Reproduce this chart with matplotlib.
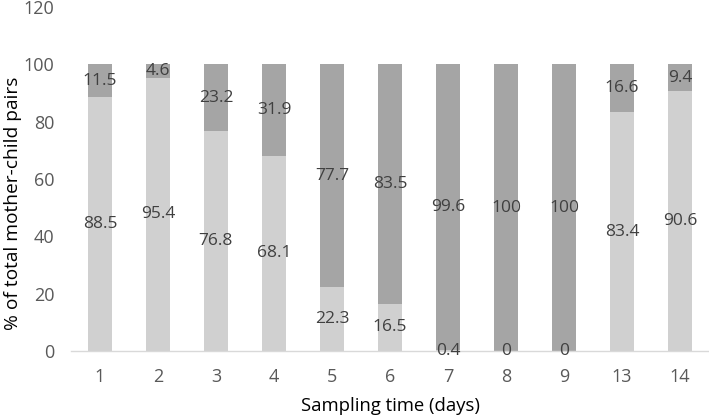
import matplotlib
matplotlib.use("Agg")
import matplotlib.pyplot as plt
import numpy as np

plt.rcParams['font.family'] = ['Open Sans', 'DejaVu Sans']

# Data
days = ['1', '2', '3', '4', '5', '6', '7', '8', '9', '13', '14']
light = [88.5, 95.4, 76.8, 68.1, 22.3, 16.5, 0.4, 0, 0, 83.4, 90.6]
dark = [11.5, 4.6, 23.2, 31.9, 77.7, 83.5, 99.6, 100, 100, 16.6, 9.4]

light_col = '#d0d0d0'
dark_col = '#a5a5a5'
text_col = '#404040'

fig = plt.figure(figsize=(7.09, 4.15), dpi=100)
ax = fig.add_axes([0.1, 0.154, 0.9, 0.829])

x = np.arange(len(days))
w = 0.41
ax.bar(x, light, w, color=light_col, zorder=2)
ax.bar(x, dark, w, bottom=light, color=dark_col, zorder=2)

def fmt(v):
    return '%g' % v

for xi, lv, dv in zip(x, light, dark):
    ax.text(xi, lv / 2, fmt(lv), ha='center', va='center', fontsize=12.5, color=text_col, zorder=3)
    ax.text(xi, lv + dv / 2, fmt(dv), ha='center', va='center', fontsize=12.5, color=text_col, zorder=3)

ax.set_xlim(-0.5, len(days) - 0.5)
ax.set_ylim(0, 120)
ax.set_yticks(range(0, 121, 20))
ax.set_xticks(x)
ax.set_xticklabels(days)
ax.tick_params(axis='both', length=0, labelsize=13, colors='#595959')
ax.tick_params(axis='y', pad=12)
ax.tick_params(axis='x', pad=12)

for s in ['top', 'right', 'left']:
    ax.spines[s].set_visible(False)
ax.spines['bottom'].set_color('#d9d9d9')
ax.spines['bottom'].set_linewidth(1.0)

ax.set_xlabel('Sampling time (days)', fontsize=13.3, color='black', labelpad=8)
ax.set_ylabel('% of total mother-child pairs', fontsize=13.8, color='black')
ax.yaxis.set_label_coords(-0.077, 0.43)

fig.savefig('out.png', dpi=100)
